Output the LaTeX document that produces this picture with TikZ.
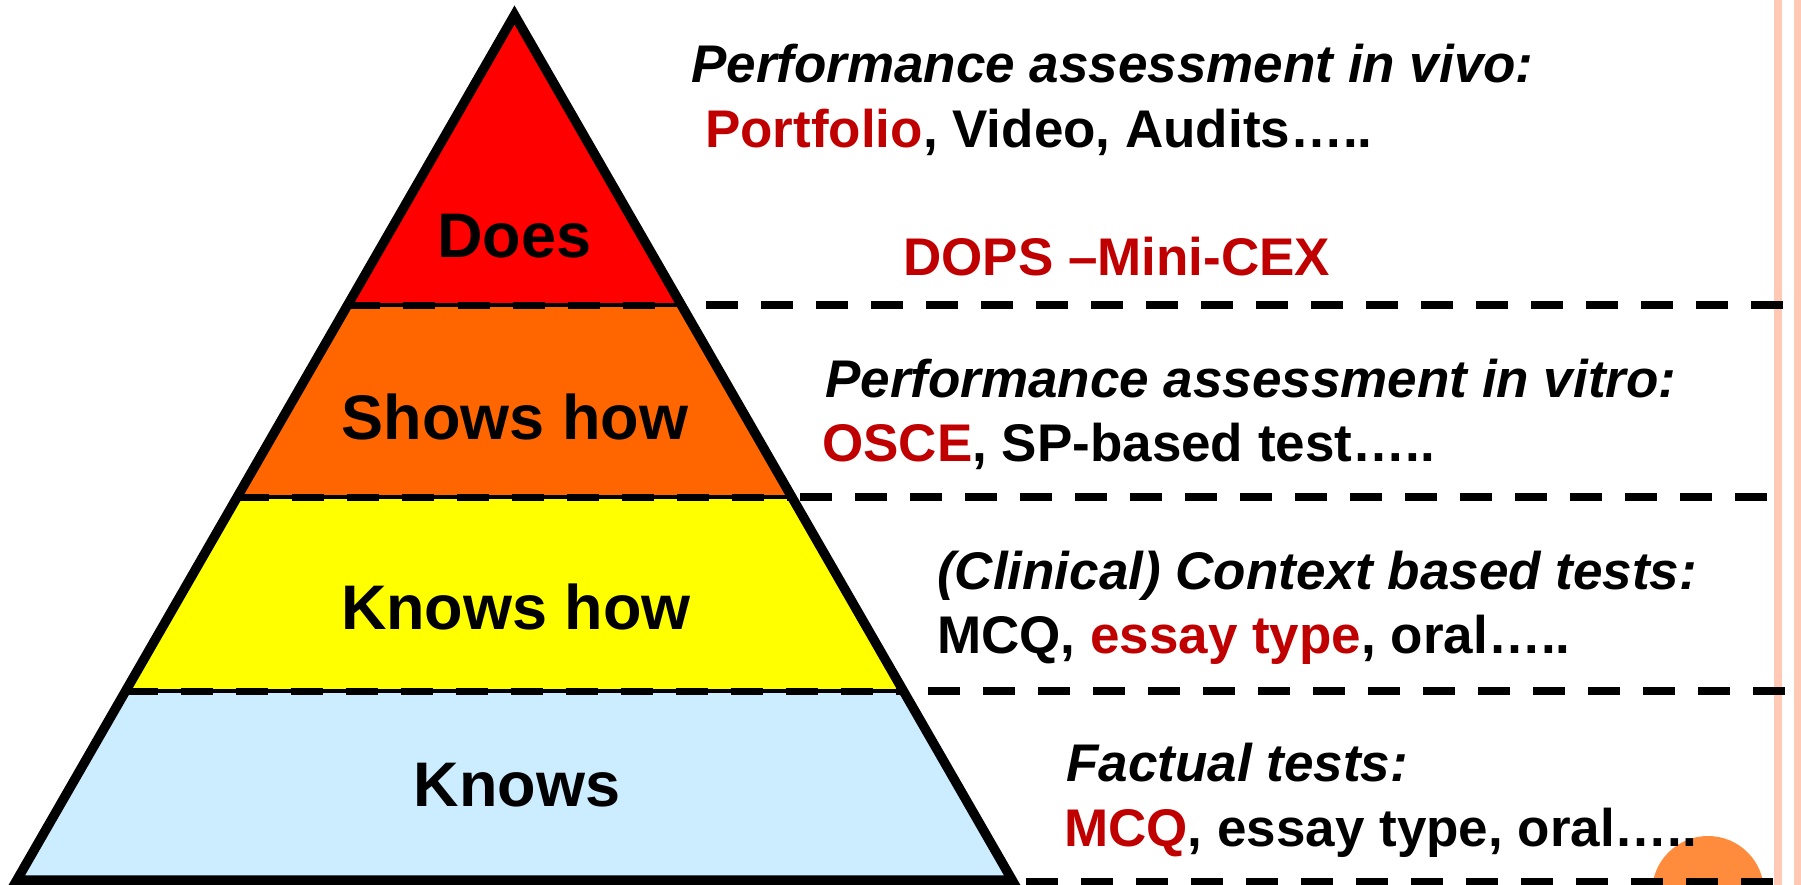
\documentclass[tikz,border=0pt]{standalone}
\usepackage{fontspec}
\setmainfont{Liberation Sans}
\definecolor{lyrDoes}{HTML}{FF0000}
\definecolor{lyrShows}{HTML}{FF6600}
\definecolor{lyrKnowsHow}{HTML}{FFFF00}
\definecolor{lyrKnows}{HTML}{CCECFF}
\definecolor{tred}{HTML}{C00000}
\definecolor{pinkline}{HTML}{FFC9B5}
\definecolor{orangec}{HTML}{FF8C3C}
\begin{document}
\begin{tikzpicture}[x=1pt,y=-1pt,
  rtext/.style={inner sep=0pt,anchor=base west,font=\fontsize{53}{64}\selectfont\bfseries},
  lyrlabel/.style={inner sep=0pt,anchor=base,font=\fontsize{63}{72}\selectfont\bfseries},
  dashline/.style={line width=8pt,dash pattern=on 32pt off 23pt},
  innerdash/.style={line width=7pt,dash pattern=on 32pt off 23pt},
  boundline/.style={line width=4.5pt},
  outline/.style={line width=9.5pt,line join=miter}]
\useasboundingbox (0,0) rectangle (1801,885);
\clip (0,0) rectangle (1801,885);
% pink margin lines
\fill[pinkline] (1774,0) rectangle (1782,885);
\fill[pinkline] (1794,0) rectangle (1803,885);
% orange circle
\fill[orangec] (1708,892) circle (56);
% pyramid coordinates
\coordinate (A) at (514.5,15);
\coordinate (B1L) at (347.7,305);
\coordinate (B1R) at (681.3,305);
\coordinate (B2L) at (237.2,497);
\coordinate (B2R) at (791.8,497);
\coordinate (B3L) at (125.6,691);
\coordinate (B3R) at (903.4,691);
\coordinate (B4L) at (16.9,880);
\coordinate (B4R) at (1012.1,880);
\coordinate (S4) at (16.9,882);
\coordinate (R4) at (1012.1,882);
% outer dashed line ends
\coordinate (O1) at (706,305);
\coordinate (O2) at (800,497);
\coordinate (O3) at (928,691);
\coordinate (O4) at (1026,882);
\coordinate (E1) at (1793,305);
\coordinate (E2) at (1785,497);
\coordinate (E3) at (1793,691);
\coordinate (E4) at (1793,882);
% layer fills
\fill[lyrDoes] (A) -- (B1R) -- (B1L) -- cycle;
\fill[lyrShows] (B1L) -- (B1R) -- (B2R) -- (B2L) -- cycle;
\fill[lyrKnowsHow] (B2L) -- (B2R) -- (B3R) -- (B3L) -- cycle;
\fill[lyrKnows] (B3L) -- (B3R) -- (B4R) -- (B4L) -- cycle;
% dashed separators outside the pyramid
\draw[dashline] (O1) -- (E1);
\draw[dashline] (O2) -- (E2);
\draw[dashline] (O3) -- (E3);
\draw[dashline] (O4) -- (E4);
% dashed separators inside the pyramid
\draw[innerdash] (B1L) -- (B1R);
\draw[innerdash] (B2L) -- (B2R);
\draw[innerdash] (B3L) -- (B3R);
\draw[innerdash] (S4) -- (R4);
% solid layer boundaries
\draw[boundline] (B1L) -- (B1R);
\draw[boundline] (B2L) -- (B2R);
\draw[boundline] (B3L) -- (B3R);
% outline
\draw[outline] (A) -- (B4R) -- (B4L) -- cycle;
% layer labels
\node[lyrlabel] (does) at (514.5,258) {Does};
\node[lyrlabel] (shows) at (515,439) {Shows how};
\node[lyrlabel] (knowshow) at (516,629) {Knows how};
\node[lyrlabel] (knows) at (517,806) {Knows};
% right-hand texts
\node[rtext] (t1) at (691,83) {\itshape Performance assessment in vivo:};
\node[rtext] (t2) at (705,148) {\textcolor{tred}{Portfolio}, Video, Audits…..};
\node[rtext] (t3) at (903,276) {\textcolor{tred}{DOPS –Mini-CEX}};
\node[rtext] (t4) at (825,397) {\itshape Performance assessment in vitro:};
\node[rtext] (t5) at (822,461) {\textcolor{tred}{OSCE}, SP-based test…..};
\node[rtext] (t6) at (937,589) {\itshape (Clinical) Context based tests:};
\node[rtext] (t7) at (937,653) {MCQ, \textcolor{tred}{essay type}, oral…..};
\node[rtext] (t8) at (1066,781) {\itshape Factual tests:};
\node[rtext] (t9) at (1064,846) {\textcolor{tred}{MCQ}, essay type, oral…..};
\end{tikzpicture}
\end{document}
